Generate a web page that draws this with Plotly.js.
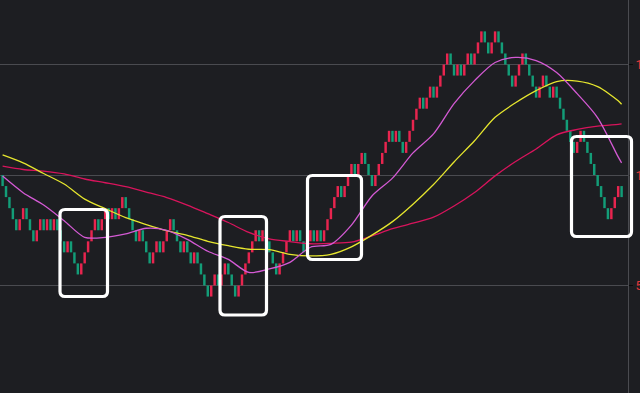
<!DOCTYPE html>
<html>
<head>
<meta charset="utf-8">
<script src="https://cdn.plot.ly/plotly-3.0.1.min.js"></script>
<style>
  html, body { margin: 0; padding: 0; background: #1d1e22; }
  #chart { width: 640px; height: 393px; }
</style>
</head>
<body>
<div id="chart"></div>
<script>
// ---- Data ----
// Brick lows (box size 0.5), one per bar
const brickLow = [
  9.5,9,8.5,8,7.5,7.5,8,8,7.5,7,
  7,7.5,7.5,7.5,7.5,7.5,7.5,7,6.5,6.5,
  6.5,6,5.5,5.5,6,6.5,7,7.5,7.5,7.5,
  8,8,8,8,8,8.5,8.5,8,7.5,7,
  7,7,6.5,6,6,6.5,6.5,6.5,7,7.5,
  7.5,7,6.5,6.5,6.5,6,6,6,5.5,5,
  4.5,4.5,5,5,5,5.5,5.5,5,4.5,4.5,
  5,5.5,6,6.5,7,7,7,7,6.5,6,
  5.5,5.5,6,6.5,7,7,7,7,6.5,6.5,
  7,7,7,7,7,7.5,8,8.5,9,9,
  9,9.5,10,10,10,10.5,10.5,10,9.5,9.5,
  10,10.5,11,11.5,11.5,11.5,11.5,11,11,11.5,
  12,12.5,13,13,13,13.5,13.5,13.5,14,14.5,
  15,15,14.5,14.5,14.5,14.5,15,15,15,15.5,
  16,16,15.5,15.5,16,16,15.5,15,14.5,14,
  14,14.5,15,15,14.5,14,13.5,13.5,14,14,
  13.5,13.5,13.5,13,12.5,12,11.5,11,11,11.5,
  11.5,11,10.5,10,9.5,9,8.5,8,8,8.5,
  9,9
];
// Brick direction: R = up brick, G = down brick
const brickDir = (
  "GGGGGRRGGG" + "RRGRGRGGGR" + "GGGRRRRRGR" + "RGRGRRGGGG" +
  "RGGGRRGRRR" + "GGGRGGRGGG" + "GRRGRRGGGR" + "RRRRRGRGGG" +
  "GRRRRGRGGR" + "RGRGRRRRRG" + "RRRGRRGGGR" + "RRRRGRGGRR" +
  "RRRGRRGRRR" + "RGGRGRRGRR" + "RGGRRGGGGG" + "RRRGGGGRRG" +
  "GRGGGGGGRR" + "GGGGGGGGRR" + "RG"
).split("");
const boxSize = 0.5;

// Moving averages sampled at bar indices
const maIndex = [0,6,12,18,24,30,36,42,48,54,60,66,72,78,84,90,96,102,108,114,120,126,132,138,144,150,156,162,168,174,180,181];
const maFast = [9.95,9.2,8.64,7.93,7.18,7.18,7.34,7.59,7.5,7.09,6.55,6.18,5.59,5.75,6.05,6.73,6.86,7.73,9.05,9.86,11.0,11.86,13.23,14.27,15.09,15.32,15.18,14.64,13.68,12.59,10.82,10.55];
const maMid  = [10.91,10.55,10.07,9.59,8.91,8.48,8.07,7.76,7.48,7.27,7.0,6.8,6.64,6.62,6.41,6.34,6.41,6.75,7.28,7.89,8.68,9.57,10.59,11.55,12.61,13.27,13.82,14.23,14.25,14.0,13.36,13.2];
const maSlow = [10.4,10.25,10.18,10.05,9.82,9.65,9.47,9.23,8.98,8.64,8.25,7.85,7.4,7.11,6.99,6.89,6.91,6.96,7.24,7.57,7.82,8.09,8.6,9.21,9.96,10.61,11.18,11.82,12.06,12.21,12.29,12.31];

const yTickVals = [5, 10, 15];
const yTickText = ["5", "10", "15"];

// ---- Styling / layout constants ----
const W = 640, H = 393, PLOT_W = 628;
const UP = "#e8254f", DOWN = "#139d78";
// highlight frames in screen pixels [x0, y0, x1, y1]
const frames = [
  [60, 209.5, 107.5, 296.5],
  [220, 216.5, 266.5, 315],
  [307.5, 175.5, 361.5, 259.5],
  [571.5, 136.5, 631.5, 236.5]
];

const idx = brickLow.map((_, i) => i);
const barTrace = {
  type: "bar",
  x: idx,
  base: brickLow,
  y: brickLow.map(() => boxSize),
  width: 0.72,
  marker: { color: brickDir.map(d => d === "R" ? UP : DOWN), line: { width: 0 } },
  hoverinfo: "skip",
  showlegend: false
};
function maTrace(vals, color) {
  return {
    type: "scatter", mode: "lines", x: maIndex, y: vals,
    line: { color: color, width: 1.3, shape: "spline", smoothing: 0.8 },
    hoverinfo: "skip", showlegend: false
  };
}

function framePath(f) {
  const r = 5;
  const px = v => v / PLOT_W;
  const py = v => 1 - v / H;
  const [x0, y0, x1, y1] = f;
  return `M ${px(x0 + r)} ${py(y0)} L ${px(x1 - r)} ${py(y0)} Q ${px(x1)} ${py(y0)} ${px(x1)} ${py(y0 + r)} ` +
         `L ${px(x1)} ${py(y1 - r)} Q ${px(x1)} ${py(y1)} ${px(x1 - r)} ${py(y1)} ` +
         `L ${px(x0 + r)} ${py(y1)} Q ${px(x0)} ${py(y1)} ${px(x0)} ${py(y1 - r)} ` +
         `L ${px(x0)} ${py(y0 + r)} Q ${px(x0)} ${py(y0)} ${px(x0 + r)} ${py(y0)} Z`;
}

const layout = {
  width: W, height: H,
  margin: { l: 0, r: W - PLOT_W, t: 0, b: 0, pad: 0 },
  paper_bgcolor: "#1d1e22",
  plot_bgcolor: "#1d1e22",
  showlegend: false,
  xaxis: { range: [-0.76, 182.87], visible: false, fixedrange: true },
  yaxis: {
    side: "right",
    range: [0.136, 17.919],
    tickvals: yTickVals, ticktext: yTickText,
    ticks: "outside", ticklen: 4, tickwidth: 1, tickcolor: "#0a0a0a",
    tickfont: { family: "Roboto, sans-serif", size: 13, color: "#e0383a" },
    showgrid: true, gridcolor: "#4a4b50", gridwidth: 1,
    zeroline: false,
    showline: true, linecolor: "#4a4b50", linewidth: 1,
    fixedrange: true
  },
  shapes: frames.map(f => ({
    type: "path", xref: "paper", yref: "paper",
    path: framePath(f),
    line: { color: "#ffffff", width: 3.2 },
    layer: "above"
  }))
};

Plotly.newPlot("chart", [barTrace, maTrace(maSlow, "#d8145c"), maTrace(maMid, "#e6e62e"), maTrace(maFast, "#d45ad4")], layout, { staticPlot: true, displayModeBar: false });
</script>
</body>
</html>
